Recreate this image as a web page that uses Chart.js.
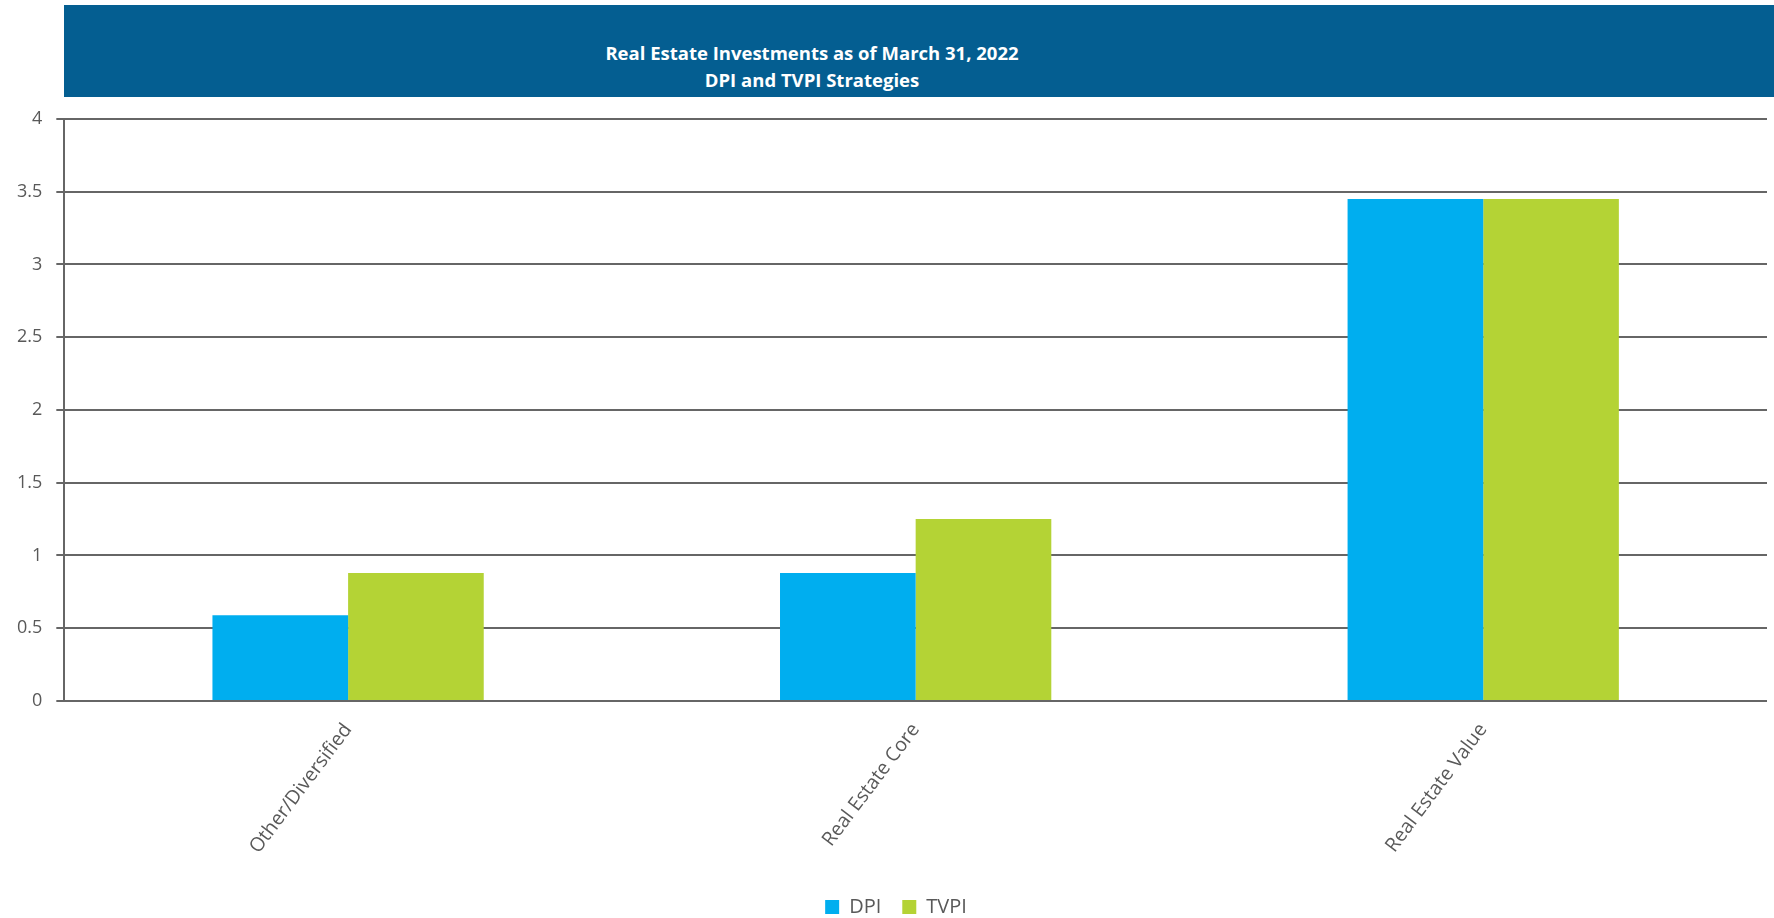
<!DOCTYPE html>
<html lang="en">
<head>
    <meta charset="utf-8">
    <title>Real Estate Investments - DPI and TVPI</title>
    <script src="https://cdn.jsdelivr.net/npm/chart.js"></script>
    <style>
        body {
            margin: 0;
            padding: 0;
            background: #ffffff;
            font-family: 'Open Sans', sans-serif;
        }

        #wrap {
            position: relative;
            width: 1774px;
            height: 918px;
        }

        /* Title banner */
        .banner {
            position: absolute;
            left: 64px;
            top: 5px;
            width: 1710px;
            height: 92px;
            background: #045e91;
            color: #ffffff;
        }

        .banner-text {
            position: absolute;
            left: 0;
            top: 34px;
            width: 1496px;
            text-align: center;
            font-weight: bold;
            font-size: 18.5px;
            line-height: 27px;
        }

        #chart-box {
            position: absolute;
            left: 0;
            top: 0;
            width: 1774px;
            height: 918px;
        }
    </style>
</head>
<body>

<div id="wrap">
    <div class="banner">
        <div class="banner-text">
            Real Estate Investments as of March 31, 2022<br>
            DPI and TVPI Strategies
        </div>
    </div>
    <div id="chart-box">
        <canvas id="reChart"></canvas>
    </div>
</div>

<script>
    const categories = ['Other/Diversified', 'Real Estate Core', 'Real Estate Value'];
    const dpiValues = [0.59, 0.88, 3.45];
    const tvpiValues = [0.88, 1.25, 3.45];

    const axisGray = '#666666';
    const textGray = '#595959';

    // nudge the legend a little to the right, like the original
    const legendShift = {
        id: 'legendShift',
        afterLayout(chart) {
            chart.legend.left += 11;
            chart.legend.right += 11;
        }
    };

    const ctx = document.getElementById('reChart').getContext('2d');
    const reChart = new Chart(ctx, {
        type: 'bar',
        data: {
            labels: categories,
            datasets: [
                {
                    label: 'DPI',
                    data: dpiValues,
                    backgroundColor: '#00aeef',
                    barPercentage: 1.0,
                    categoryPercentage: 0.478
                },
                {
                    label: 'TVPI',
                    data: tvpiValues,
                    backgroundColor: '#b4d335',
                    barPercentage: 1.0,
                    categoryPercentage: 0.478
                }
            ]
        },
        plugins: [legendShift],
        options: {
            responsive: true,
            maintainAspectRatio: false,
            animation: false,
            layout: {
                padding: { left: 3, right: 7, top: 119, bottom: -9 }
            },
            scales: {
                x: {
                    grid: { display: false },
                    border: { display: false },
                    ticks: {
                        color: textGray,
                        font: { family: 'Open Sans', size: 19.5 },
                        minRotation: 53,
                        maxRotation: 53,
                        padding: 10
                    },
                    // leave room between the rotated labels and the legend
                    afterFit: function (scale) {
                        scale.height += 8;
                    }
                },
                y: {
                    min: 0,
                    max: 4,
                    ticks: {
                        stepSize: 0.5,
                        color: textGray,
                        font: { family: 'Open Sans', size: 18 },
                        padding: 14,
                        callback: function (value) {
                            return String(value);
                        }
                    },
                    grid: {
                        color: axisGray,
                        lineWidth: 2,
                        tickLength: 8
                    },
                    border: {
                        display: true,
                        color: axisGray,
                        width: 2
                    }
                }
            },
            plugins: {
                legend: {
                    position: 'bottom',
                    labels: {
                        color: textGray,
                        font: { family: 'Open Sans', size: 20 },
                        boxWidth: 14,
                        boxHeight: 14,
                        padding: 21
                    }
                },
                tooltip: { enabled: false }
            }
        }
    });
</script>
</body>
</html>
